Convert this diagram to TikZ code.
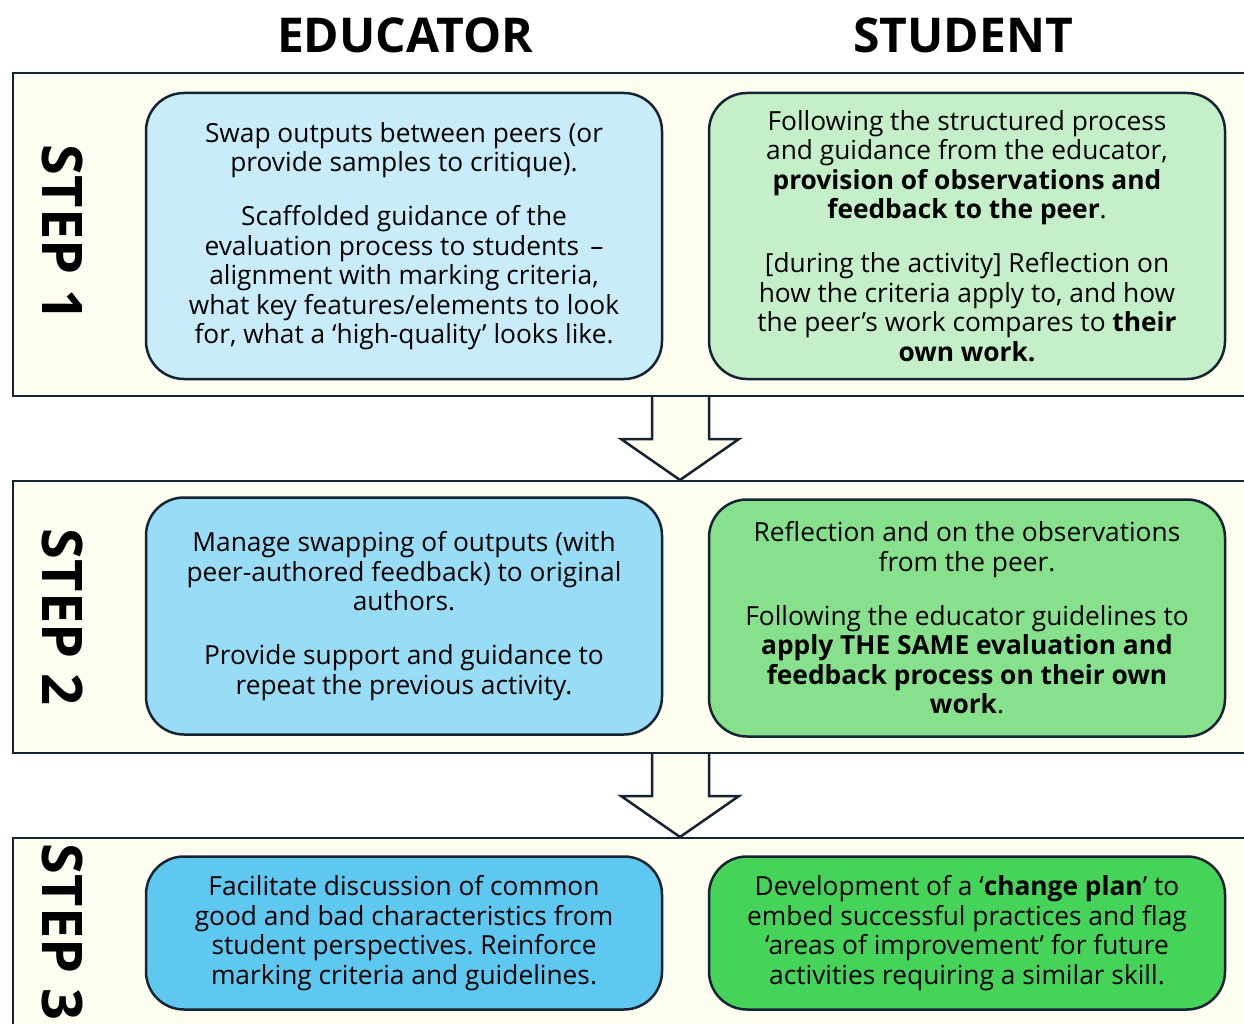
\documentclass[tikz,border=0pt]{standalone}
\usepackage{fontspec}
\setmainfont{Open Sans}
\frenchspacing
\definecolor{edge}{RGB}{22,36,50}
\definecolor{cream}{RGB}{253,253,240}
\definecolor{blueA}{RGB}{200,236,250}
\definecolor{blueB}{RGB}{152,220,246}
\definecolor{blueC}{RGB}{94,200,240}
\definecolor{greenA}{RGB}{196,239,200}
\definecolor{greenB}{RGB}{134,224,140}
\definecolor{greenC}{RGB}{70,211,90}
\begin{document}
\begin{tikzpicture}[x=1pt, y=-1pt,
    panel/.style={draw=edge, line width=2.5pt, fill=cream},
    card/.style={draw=edge, line width=2.5pt, rounded corners=38pt,
        minimum width=516pt, align=center, inner sep=0pt,
        font=\fontsize{26.3}{29.5}\selectfont},
    heading/.style={font=\fontsize{48}{50}\selectfont\bfseries},
    steplabel/.style={rotate=-90, font=\fontsize{56}{58}\selectfont\bfseries},
    blockarrow/.style={draw=edge, line width=2.5pt, fill=cream, line join=miter}]

    \clip (0,0) rectangle (1244,1024);
    \fill[white] (0,0) rectangle (1244,1024);

    % Titulos de columnas
    \node[heading] (edu) at (405,35) {EDUCATOR};
    \node[heading] (stu) at (963,35) {STUDENT};

    % Paneles de los pasos
    \draw[panel] (13,73) rectangle (1270,396);
    \draw[panel] (13,481) rectangle (1270,753);
    \draw[panel] (13,838) rectangle (1270,1060);

    % Flechas entre pasos
    \draw[blockarrow] (652,397) -- (652,439) -- (621,439) -- (680,480)
        -- (739,439) -- (709,439) -- (709,397);
    \draw[blockarrow] (652,754) -- (652,796) -- (621,796) -- (680,837)
        -- (739,796) -- (709,796) -- (709,754);

    % Etiquetas de los pasos
    \node[steplabel] (st1) at (63,233) {STEP 1};
    \node[steplabel] (st2) at (63,617) {STEP 2};
    \node[steplabel] (st3) at (63,932) {STEP 3};

    % Paso 1
    \node[card, fill=blueA, minimum height=286pt] (e1) at (404,236)
        {Swap outputs between peers (or\\ provide samples to critique).\\[24.5pt]
         Scaffolded guidance of the\\ evaluation process to students \,–\\
         alignment with marking criteria,\\ what key features/elements to look\\
         for, what a ‘high-quality’ looks like.};
    \node[card, fill=greenA, minimum height=286pt] (s1) at (967,236)
        {Following the structured process\\ and guidance from the educator,\\
         \textbf{provision of observations and}\\ \textbf{feedback to the peer}.\\[24.5pt]
         [during the activity] Reflection on\\ how the criteria apply to, and how\\
         the peer’s work compares to \textbf{their}\\ \textbf{own work.}};

    % Paso 2
    \node[card, fill=blueB, minimum height=237pt] (e2) at (404,616)
        {Manage swapping of outputs (with\\ peer-authored feedback) to original\\
         authors.\\[24.5pt]
         Provide support and guidance to\\ repeat the previous activity.};
    \node[card, fill=greenB, minimum height=237pt] (s2) at (967,618)
        {Reflection and on the observations\\ from the peer.\\[24.5pt]
         Following the educator guidelines to\\
         \textbf{apply THE SAME evaluation and}\\ \textbf{feedback process on their own}\\
         \textbf{work}.};

    % Paso 3
    \node[card, fill=blueC, minimum height=153pt] (e3) at (404,933)
        {Facilitate discussion of common\\ good and bad characteristics from\\
         student perspectives. Reinforce\\ marking criteria and guidelines.};
    \node[card, fill=greenC, minimum height=153pt] (s3) at (967,933)
        {Development of a ‘\textbf{change plan}’ to\\ embed successful practices and flag\\
         ‘areas of improvement’ for future\\ activities requiring a similar skill.};

\end{tikzpicture}
\end{document}
